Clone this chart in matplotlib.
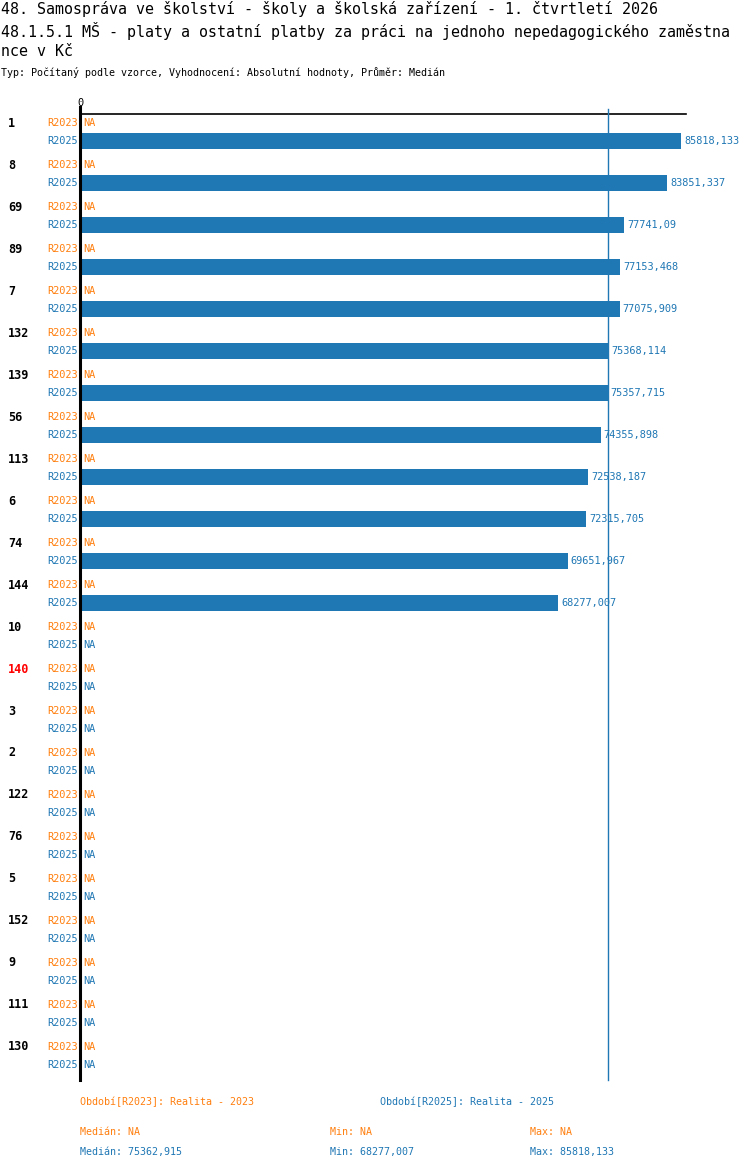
import numpy as np
import matplotlib
matplotlib.use("Agg")
from matplotlib import pyplot as plt

plt.rcParams['font.family'] = ['DejaVu Sans Mono']

ORANGE = "#ff7f0e"
BLUE = "#1f77b4"

title_lines = [
    "48. Samospráva ve školství - školy a školská zařízení - 1. čtvrtletí 2026",
    "48.1.5.1 MŠ - platy a ostatní platby za práci na jednoho nepedagogického zaměstna",
    "nce v Kč",
]
subtitle = "Typ: Počítaný podle vzorce, Vyhodnocení: Absolutní hodnoty, Průměr: Medián"

groups = ['1', '8', '69', '89', '7', '132', '139', '56', '113', '6', '74', '144',
          '10', '140', '3', '2', '122', '76', '5', '152', '9', '111', '130']
highlight = '140'
r2023 = [None] * len(groups)
r2025 = [85818.133, 83851.337, 77741.09, 77153.468, 77075.909, 75368.114,
         75357.715, 74355.898, 72538.187, 72315.705, 69651.967, 68277.007] + [None] * 11
periods = ['R2023', 'R2025']
period_names = ['Období[R2023]: Realita - 2023', 'Období[R2025]: Realita - 2025']
median_2025 = 75362.915
stats = [("NA", "NA", "NA"), ("75362,915", "68277,007", "85818,133")]

W, H = 750, 1170
fig = plt.figure(figsize=(W / 100, H / 100), dpi=100)

# axes placed in pixels
ax_l, ax_r, ax_t, ax_b = 80, 686, 114, 1080
ax = fig.add_axes([ax_l / W, 1 - ax_b / H, (ax_r - ax_l) / W, (ax_b - ax_t) / H])

row_px = 42.0
first_px = 132.0
ax.set_ylim((ax_b - first_px) / row_px, (ax_t - first_px) / row_px)
xmax = 86530
ax.set_xlim(0, xmax)
ax.axis('off')

off = 9 / row_px
bar_h = 16 / row_px


def fmt(v):
    return f"{v}".replace('.', ',')


def px_x(p):
    return (p - ax_l) / (ax_r - ax_l)


yt = ax.get_yaxis_transform()
y = np.arange(len(groups))

for i, g in enumerate(groups):
    ax.text(px_x(8), y[i] - off, g, transform=yt, ha='left', va='center',
            fontsize=8.5, fontweight='bold',
            color='red' if g == highlight else 'black')
    for j, (series, col) in enumerate([(r2023, ORANGE), (r2025, BLUE)]):
        yy = y[i] + (off if j else -off)
        ax.text(px_x(78), yy, periods[j], transform=yt, ha='right', va='center',
                fontsize=7.4, color=col)
        v = series[i]
        if v is None:
            ax.text(3 * xmax / (ax_r - ax_l), yy, "NA", ha='left', va='center',
                    fontsize=7.4, color=col)
        else:
            ax.barh(yy, v, height=bar_h, color=col)
            ax.text(v + 3 * xmax / (ax_r - ax_l), yy, fmt(v), ha='left',
                    va='center', fontsize=7.4, color=col)

# axis lines
ax.axhline(ax.get_ylim()[1], color='black', lw=1.2, clip_on=False)
ax.axvline(0, ymin=0, ymax=(ax_b - 107) / (ax_b - ax_t), color='black', lw=2.2,
           clip_on=False)
ax.axvline(median_2025, ymin=0, ymax=(ax_b - 109) / (ax_b - ax_t), color=BLUE,
           lw=1, clip_on=False)
ax.text(0, 1 + 11 / (ax_b - ax_t), "0", transform=ax.get_xaxis_transform(),
        ha='center', va='center', fontsize=7.4)

# titles
for k, line in enumerate(title_lines):
    fig.text(1 / W, 1 - (9 + 21.5 * k) / H, line, fontsize=10.8, va='center',
             ha='left')
fig.text(1 / W, 1 - 73 / H, subtitle, fontsize=7.2, va='center', ha='left')

# legend / stats
fig.text(80 / W, 1 - 1102 / H, period_names[0], color=ORANGE, fontsize=7.2,
         va='center')
fig.text(380 / W, 1 - 1102 / H, period_names[1], color=BLUE, fontsize=7.2,
         va='center')
for r, (col, (med, mn, mx)) in enumerate(zip([ORANGE, BLUE], stats)):
    yy = 1 - (1132 + 20 * r) / H
    fig.text(80 / W, yy, f"Medián: {med}", color=col, fontsize=7.2, va='center')
    fig.text(330 / W, yy, f"Min: {mn}", color=col, fontsize=7.2, va='center')
    fig.text(530 / W, yy, f"Max: {mx}", color=col, fontsize=7.2, va='center')

fig.savefig("out.png", dpi=100)
